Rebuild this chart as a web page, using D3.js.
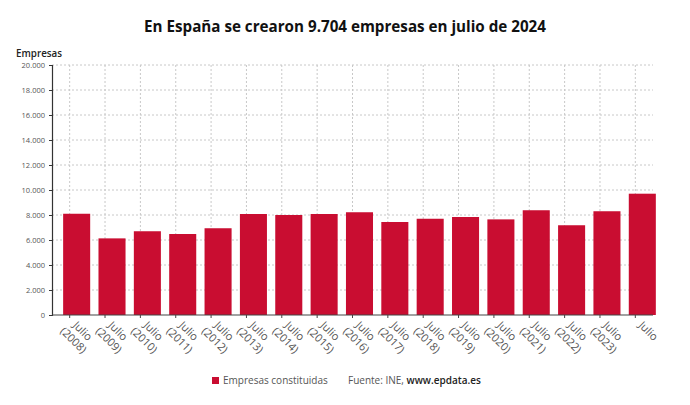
<!DOCTYPE html>
<html><head><meta charset="utf-8">
<script src="https://cdn.jsdelivr.net/npm/d3@7"></script>
<style>
html,body{margin:0;padding:0;background:#fff;}
svg{display:block;font-family:"Open Sans",sans-serif;}
</style></head>
<body><svg id="chart" width="690" height="405"></svg>
<script>
const categories = ["Julio (2008)","Julio (2009)","Julio (2010)","Julio (2011)","Julio (2012)","Julio (2013)","Julio (2014)","Julio (2015)","Julio (2016)","Julio (2017)","Julio (2018)","Julio (2019)","Julio (2020)","Julio (2021)","Julio (2022)","Julio (2023)","Julio"];
const values = [8100,6130,6700,6480,6940,8080,8000,8080,8220,7440,7700,7840,7650,8380,7180,8300,9704];
const yTicks = [0,2000,4000,6000,8000,10000,12000,14000,16000,18000,20000];
const title = "En España se crearon 9.704 empresas en julio de 2024";
const seriesName = "Empresas constituidas";

(function () {
const svg = d3.select("#chart");
const pL = 52, pR = 653, pT = 65, pB = 315;
const barColor = "#c90d31";
const x = d3.scaleBand().domain(categories).range([pL, pR]).padding(0);
const y = d3.scaleLinear().domain([0, 20000]).range([pB, pT]);
const step = x.step();
const barW = step * 0.765;
const barOff = step * 0.315;
const fmt = v => d3.format(",")(v).replace(/,/g, ".");

// title
svg.append("text").attr("x", 345).attr("y", 32).attr("text-anchor", "middle")
  .attr("font-size", 15.2).attr("font-weight", 700).attr("fill", "#111").text(title);
svg.append("text").attr("x", 16).attr("y", 57).attr("font-size", 9.8)
  .attr("font-weight", 600).attr("fill", "#222").text("Empresas");

// grid
const grid = svg.append("g");
grid.selectAll("line.h").data(yTicks.filter(t => t > 0)).join("line")
  .attr("x1", pL).attr("x2", pR).attr("y1", d => y(d)).attr("y2", d => y(d))
  .attr("stroke", "#c8c8c8").attr("stroke-width", 1).attr("stroke-dasharray", "2,2");
grid.selectAll("line.v").data(categories).join("line")
  .attr("x1", d => x(d) + step / 2).attr("x2", d => x(d) + step / 2)
  .attr("y1", pT).attr("y2", pB)
  .attr("stroke", "#c8c8c8").attr("stroke-width", 1).attr("stroke-dasharray", "2,2");

// bars
svg.append("g").selectAll("rect").data(values).join("rect")
  .attr("x", (d, i) => x(categories[i]) + barOff)
  .attr("width", barW)
  .attr("y", d => y(d))
  .attr("height", d => y(0) - y(d))
  .attr("fill", barColor);

// y axis
const yAxis = svg.append("g").attr("transform", `translate(${pL},0)`)
  .call(d3.axisLeft(y).tickValues(yTicks).tickSize(3).tickPadding(4).tickFormat(fmt));
yAxis.select(".domain").attr("stroke", "#333").attr("stroke-width", 1.2);
yAxis.selectAll(".tick line").attr("stroke", "#333");
yAxis.selectAll(".tick text").attr("font-size", 7.5).attr("fill", "#555")
  .attr("font-family", "'Open Sans',sans-serif");

// x axis line
svg.append("line").attr("x1", pL).attr("x2", pR).attr("y1", pB).attr("y2", pB)
  .attr("stroke", "#444").attr("stroke-width", 1.2);
svg.append("g").selectAll("line").data(categories).join("line")
  .attr("x1", d => x(d) + step / 2).attr("x2", d => x(d) + step / 2)
  .attr("y1", pB).attr("y2", pB + 3).attr("stroke", "#444");

// x labels
const lab = svg.append("g").selectAll("g").data(categories).join("g")
  .attr("transform", d => `translate(${x(d) + barOff + barW / 2 + 6},331) rotate(45)`);
lab.each(function(d) {
  const parts = d.split(" ");
  const t = d3.select(this).append("text").attr("text-anchor", "middle")
    .attr("font-size", 11).attr("fill", "#555");
  parts.forEach((p, i) => {
    t.append("tspan").attr("x", 0).attr("y", 3.8 + i * 13).text(p);
  });
});

// legend
svg.append("rect").attr("x", 212).attr("y", 377).attr("width", 7).attr("height", 7).attr("fill", barColor);
svg.append("text").attr("x", 223).attr("y", 384).attr("font-size", 10).attr("fill", "#555").text(seriesName);
const src = svg.append("text").attr("x", 348).attr("y", 384).attr("font-size", 10).attr("fill", "#555");
src.append("tspan").text("Fuente: INE, ");
src.append("tspan").attr("fill", "#222").attr("font-weight", 600).text("www.epdata.es");
})();
</script></body></html>
